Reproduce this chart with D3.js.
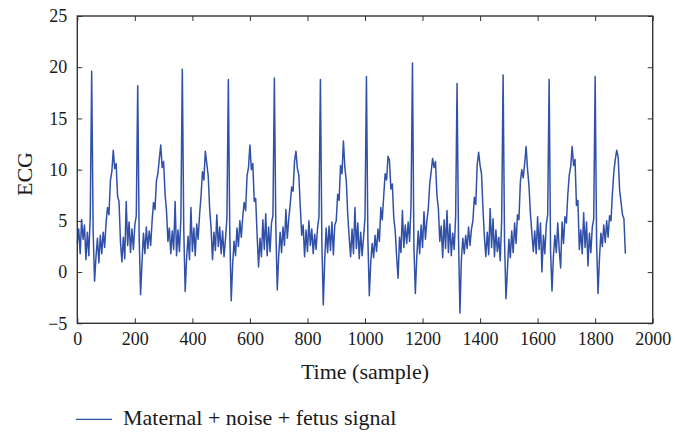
<!DOCTYPE html>
<html><head><meta charset="utf-8">
<script src="https://cdn.jsdelivr.net/npm/d3@7"></script>
<style>body{margin:0;background:#fff;} text{font-family:"Liberation Serif","Times New Roman",serif;fill:#1a1a1a;}</style>
</head><body><svg id="c" width="675" height="433"></svg>
<script>
const sampleStep = 5;
// ECG values, one per sampleStep samples starting at sample 0
const ecgValues = [
 2.8,4.2,1.8,5.1,3.2,4.6,1.2,3.9,1.6,5.5,
 19.6,4.0,-0.9,1.5,3.3,0.9,3.6,1.8,3.9,2.4,
 4.8,6.3,5.6,8.9,9.8,11.9,10.1,10.6,7.4,6.9,
 3.0,1.0,3.4,1.3,6.9,2.6,4.9,1.9,4.2,2.2,
 4.6,5.5,18.2,3.5,-2.2,1.0,3.8,1.8,4.4,2.3,
 4.0,2.6,5.0,6.8,6.1,8.9,9.6,11.0,12.4,10.2,
 10.8,7.6,6.0,3.0,4.3,1.8,4.0,2.2,6.9,1.6,
 4.1,2.0,5.2,19.8,4.2,-1.9,1.4,3.5,1.2,6.3,
 2.0,4.3,1.6,4.7,3.2,5.6,7.4,9.8,9.0,11.8,
 10.6,9.4,6.2,4.3,1.2,3.9,2.1,5.6,2.5,4.4,
 1.8,4.0,1.5,3.2,5.2,18.8,3.8,-2.8,0.8,3.0,
 1.6,4.3,2.5,5.0,3.4,5.4,6.8,6.0,9.4,10.2,
 12.4,10.0,10.6,6.9,7.2,3.6,0.5,3.3,1.5,5.1,
 2.2,5.7,1.6,4.4,2.0,4.8,5.5,18.95,4.5,-1.75,
 1.6,3.9,1.9,4.4,2.6,6.1,3.3,5.2,6.6,8.3,
 7.9,10.8,11.8,10.1,9.5,6.4,3.6,4.6,1.5,4.1,
 2.0,5.0,2.6,4.2,1.8,3.7,2.2,4.3,5.4,18.8,
 3.0,-3.2,1.2,4.3,1.9,4.5,2.1,4.9,1.7,4.6,
 5.0,7.6,7.0,10.4,9.6,12.8,10.2,8.9,5.6,3.4,
 1.5,4.2,1.8,6.3,2.3,4.8,1.3,3.9,1.6,3.4,
 5.3,19.1,3.2,-2.3,1.0,2.8,1.4,3.6,2.0,4.2,
 3.0,6.3,5.1,7.4,9.6,9.0,11.3,10.9,8.1,8.6,
 5.3,4.0,1.5,-0.6,3.4,1.9,6.0,2.4,4.6,2.8,
 4.9,3.0,6.5,20.4,2.5,-2.1,1.5,4.0,1.8,4.6,
 2.4,5.9,3.2,5.0,6.2,8.6,9.8,11.1,10.2,10.8,
 7.5,6.2,3.0,4.5,1.4,5.1,2.3,6.0,1.9,4.7,
 1.6,3.8,2.2,5.4,18.4,3.4,-4.0,1.2,3.3,1.8,
 3.6,2.3,4.4,2.6,4.2,5.0,7.3,6.6,10.5,11.7,
 10.4,9.6,6.2,3.4,1.5,3.9,1.7,6.2,2.4,5.2,
 1.5,4.1,2.0,3.4,1.1,5.0,19.25,3.0,-2.6,0.2,
 3.2,1.4,4.0,1.9,4.8,2.8,5.6,5.1,8.8,10.0,
 9.2,10.6,12.25,10.0,8.4,5.7,3.8,2.0,4.0,1.8,
 5.4,2.2,4.8,0.0,3.6,1.8,4.6,5.6,18.8,2.0,
 -1.85,1.6,3.6,1.9,4.8,2.2,0.4,4.9,2.8,5.4,
 4.8,7.6,9.5,10.3,12.25,10.4,11.0,6.5,7.0,2.2,
 4.1,1.8,5.8,2.4,4.9,0.6,3.8,1.9,4.4,5.2,
 19.1,2.8,-2.1,1.4,3.8,2.5,4.6,2.9,5.0,3.4,
 5.5,5.0,7.7,9.8,11.0,11.9,11.2,8.0,6.8,5.6,
 5.2,1.8
];
const xTicks = [0,200,400,600,800,1000,1200,1400,1600,1800,2000];
const yTicks = [-5,0,5,10,15,20,25];
const xDomain = [0,2000];
const yDomain = [-5,25];
const xLabel = "Time (sample)";
const yLabel = "ECG";
const seriesName = "Maternal + noise + fetus signal";

const svg = d3.select("#c");
const W = 675, H = 433;
const m = {l:77.3, t:16, r:W-652.7, b:H-323.3};
const x = d3.scaleLinear().domain(xDomain).range([m.l, W-m.r]);
const y = d3.scaleLinear().domain(yDomain).range([H-m.b, m.t]);
const axisColor = "#333";
const lineColor = "#3151a8";
const fs = 18;

const data = ecgValues.map((v,i)=>({s:i*sampleStep, v}));

// line
svg.append("path").datum(data)
  .attr("fill","none").attr("stroke",lineColor).attr("stroke-width",1.5)
  .attr("stroke-linejoin","round")
  .attr("d", d3.line().x(d=>x(d.s)).y(d=>y(d.v)));

function styleAxis(g){
  g.select(".domain").remove();
  g.selectAll(".tick line").attr("stroke",axisColor).attr("stroke-width",1);
  g.selectAll("text").style("font-size",fs+"px").attr("fill","#1a1a1a")
   .style("font-family","'Liberation Serif',serif");
}
const tl = 5;
svg.append("g").attr("transform",`translate(0,${H-m.b})`)
  .call(d3.axisBottom(x).tickValues(xTicks).tickSizeInner(-tl).tickSizeOuter(0).tickPadding(9).tickFormat(d3.format("d")))
  .call(styleAxis);
svg.append("g").attr("transform",`translate(0,${m.t})`)
  .call(d3.axisTop(x).tickValues(xTicks).tickSizeInner(-tl).tickSizeOuter(0).tickFormat(""))
  .call(styleAxis);
svg.append("g").attr("transform",`translate(${m.l},0)`)
  .call(d3.axisLeft(y).tickValues(yTicks).tickSizeInner(-tl).tickSizeOuter(0).tickPadding(10).tickFormat(d3.format("d")))
  .call(styleAxis);
svg.append("g").attr("transform",`translate(${W-m.r},0)`)
  .call(d3.axisRight(y).tickValues(yTicks).tickSizeInner(-tl).tickSizeOuter(0).tickFormat(""))
  .call(styleAxis);

// frame
svg.append("rect").attr("x",m.l).attr("y",m.t).attr("width",W-m.r-m.l).attr("height",H-m.b-m.t)
  .attr("fill","none").attr("stroke",axisColor).attr("stroke-width",1.4);

// axis labels
svg.append("text").attr("x",(m.l+W-m.r)/2).attr("y",379).attr("text-anchor","middle")
  .style("font-size","22px").text(xLabel);
svg.append("text").attr("transform",`translate(32,174) rotate(-90)`).attr("text-anchor","middle")
  .style("font-size","22px").text(yLabel);

// legend
svg.append("line").attr("x1",76).attr("x2",112).attr("y1",419.3).attr("y2",419.3)
  .attr("stroke",lineColor).attr("stroke-width",1.3);
svg.append("text").attr("x",123).attr("y",425).style("font-size","22px").text(seriesName);
</script></body></html>
